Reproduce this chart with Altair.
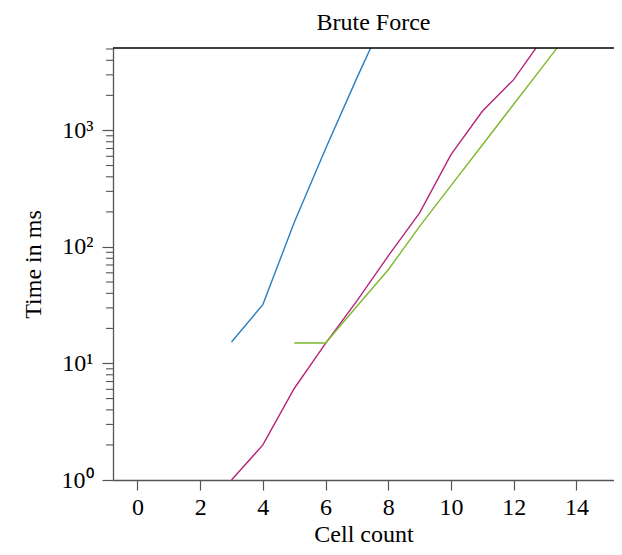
import altair as alt
import pandas as pd

# Data
blue_x = [3, 4, 5, 6, 7, 8]
blue_y = [15.3, 32, 162, 697, 2826, 10900]
magenta_x = [3, 4, 5, 6, 7, 8, 9, 10, 11, 12, 13]
magenta_y = [1, 2, 6.1, 14.9, 34.5, 84, 196, 620, 1460, 2730, 6570]
green_x = [5, 6, 7, 8, 9, 10, 11, 12, 13, 14]
green_y = [15, 15, 31, 63.7, 150, 336, 750, 1679, 3750, 8390]

major_y = [1, 10, 100, 1000]
minor_y = [m * d for d in [1, 10, 100, 1000] for m in range(2, 10) if m * d <= 5100]
x_ticks = [0, 2, 4, 6, 8, 10, 12, 14]

series = [("a", blue_x, blue_y), ("b", magenta_x, magenta_y), ("c", green_x, green_y)]
rows = []
for name, xs, ys in series:
    for xv, yv in zip(xs, ys):
        rows.append({"series": name, "x": xv, "y": yv})
df = pd.DataFrame(rows)
minor_df = pd.DataFrame({"y": minor_y})

FONT = "Liberation Serif"
LFS = 24
TFS = 24
AXC = "#555555"
W, H = 501, 432

xscale = alt.Scale(domain=[-0.78, 15.2], nice=False, zero=False)
yscale = alt.Scale(type="log", domain=[1, 5100], nice=False)

lines = alt.Chart(df).mark_line(clip=True, strokeWidth=1.4).encode(
    x=alt.X("x:Q", scale=xscale,
            axis=alt.Axis(values=x_ticks, title="Cell count", grid=False,
                          tickSize=10, tickColor=AXC, domainColor=AXC,
                          tickWidth=1.2, domainWidth=1.3,
                          labelFont=FONT, labelFontSize=LFS, labelColor="black",
                          labelPadding=5, titleFont=FONT, titleFontSize=TFS,
                          titleFontWeight="normal", titleColor="black",
                          titlePadding=3)),
    y=alt.Y("y:Q", scale=yscale,
            axis=alt.Axis(values=major_y, title="Time in ms", grid=False,
                          tickSize=11, tickColor=AXC, domainColor=AXC,
                          tickWidth=1.2, domainWidth=1.3,
                          labelExpr="'10' + (datum.value < 5 ? '⁰' : datum.value < 50 ? '¹' : datum.value < 500 ? '²' : '³')",
                          labelFont=FONT, labelFontSize=LFS, labelColor="black",
                          labelPadding=9, titleFont=FONT, titleFontSize=TFS,
                          titleFontWeight="normal", titleColor="black",
                          titlePadding=16)),
    color=alt.Color("series:N",
                    scale=alt.Scale(domain=["a", "b", "c"],
                                    range=["#2a7fc0", "#b8237b", "#7db92c"]),
                    legend=None),
    detail="series:N",
)

minor = alt.Chart(minor_df).mark_rule(color=AXC, strokeWidth=1.1).encode(
    y=alt.Y("y:Q", scale=yscale),
    x=alt.value(-7),
    x2=alt.value(0),
)

top = alt.Chart(pd.DataFrame({"v": [0]})).mark_rule(color="black", strokeWidth=1.4).encode(
    y=alt.value(0),
    x=alt.value(0),
    x2=alt.value(W),
)

chart = alt.layer(lines, minor, top).properties(
    width=W, height=H,
    title=alt.TitleParams("Brute Force", font=FONT, fontSize=TFS,
                          fontWeight="normal", color="black", offset=12, dx=10),
    autosize=alt.AutoSizeParams(type="none"),
    padding={"left": 105, "top": 40, "right": 0, "bottom": 67},
).configure_view(stroke=None)

chart.save("out.html", embed_options={"renderer": "svg", "actions": False})
